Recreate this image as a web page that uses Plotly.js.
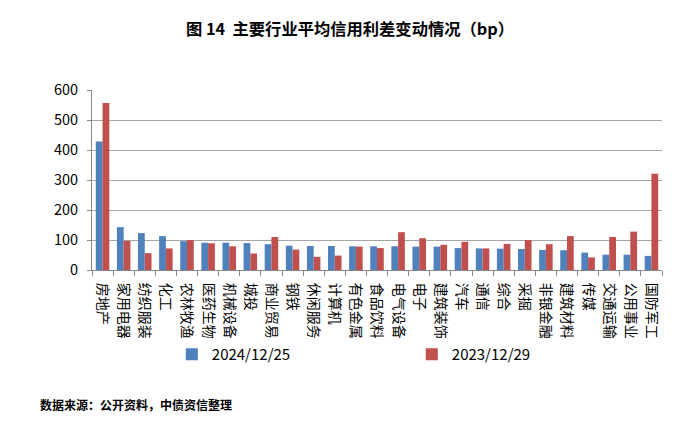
<!DOCTYPE html>
<html>
<head>
<meta charset="utf-8">
<script src="https://cdn.plot.ly/plotly-3.0.1.min.js"></script>
<style>html,body{margin:0;padding:0;background:#fff;}#chart{width:700px;height:434px;}</style>
</head>
<body>
<div id="chart"></div>
<script>
const categories = ["房地产","家用电器","纺织服装","化工","农林牧渔","医药生物","机械设备","城投","商业贸易","钢铁","休闲服务","计算机","有色金属","食品饮料","电气设备","电子","建筑装饰","汽车","通信","综合","采掘","非银金融","建筑材料","传媒","交通运输","公用事业","国防军工"];
const series2024 = [428,143,123,113,96,91,91,90,86,81,80,80,79,79,79,78,78,73,72,71,70,67,66,58,51,51,47];
const series2023 = [557,97,56,72,100,89,79,55,110,68,44,48,78,73,126,106,84,94,72,87,100,86,113,42,110,128,321];
const seriesNames = ["2024/12/25","2023/12/29"];
const yTicks = [0,100,200,300,400,500,600];

const font = "Noto Sans CJK SC, Noto Sans, sans-serif";
const traces = [
  {type:"bar", name:seriesNames[0], x:categories, y:series2024, marker:{color:"#4F81BD"}},
  {type:"bar", name:seriesNames[1], x:categories, y:series2023, marker:{color:"#C0504D"}}
];
const layout = {
  width:700, height:434,
  margin:{l:92, r:38, t:90, b:164},
  paper_bgcolor:"#fff", plot_bgcolor:"#fff",
  font:{family:font, color:"#000", size:12},
  title:{text:"<b>图 14  主要行业平均信用利差变动情况（bp）</b>", x:0.5, xanchor:"center", y:0.932, yanchor:"middle", font:{size:16.3, family:font, color:"#000"}},
  barmode:"group", bargap:0.36, bargroupgap:0,
  showlegend:true,
  legend:{orientation:"h", x:0.14, xanchor:"left", y:-0.47, yanchor:"middle", font:{size:15, family:font}, entrywidth:195, entrywidthmode:"pixels", itemwidth:30, traceorder:"normal"},
  xaxis:{type:"category", tickangle:90, tickson:"boundaries", ticks:"outside", ticklen:5, tickcolor:"#888", showline:true, linecolor:"#888", linewidth:1, showgrid:false, ticklabelstandoff:9, tickfont:{size:14, family:font}},
  yaxis:{range:[0,600], tickvals:yTicks, ticks:"outside", ticklen:4, tickcolor:"#888", showline:true, linecolor:"#888", showgrid:true, gridcolor:"#A6A6A6", gridwidth:1, zeroline:false, ticklabelstandoff:6, tickfont:{size:14.5, family:font}, fixedrange:true},
  annotations:[{text:"<b>数据来源：公开资料，中债资信整理</b>", xref:"paper", yref:"paper", x:-0.095, xanchor:"left", y:-0.745, yanchor:"middle", showarrow:false, font:{size:12, family:font, color:"#000"}}]
};
Plotly.newPlot("chart", traces, layout, {displayModeBar:false, staticPlot:true});
</script>
</body>
</html>
